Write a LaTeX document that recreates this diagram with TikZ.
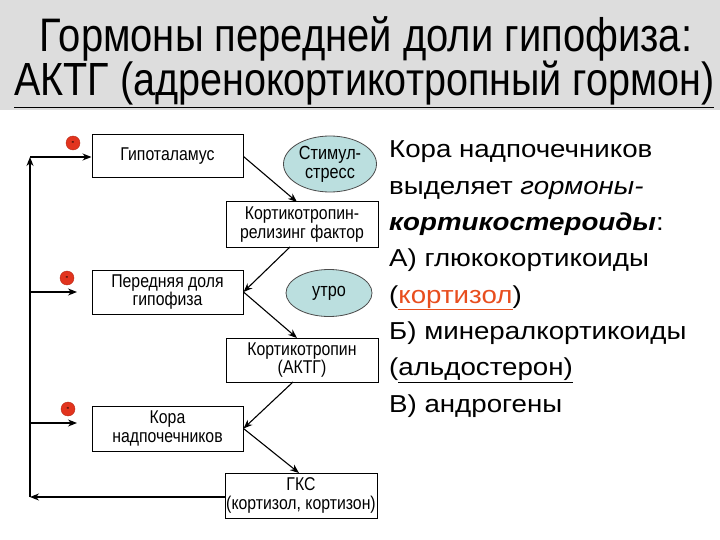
\documentclass[tikz,border=0pt]{standalone}
\usepackage{fontspec}
\setmainfont{Liberation Sans}
\newfontfamily\narrowfont[FakeStretch=0.855]{Liberation Sans}
\newfontfamily\titlefont[FakeStretch=0.85]{Liberation Sans}
\newfontfamily\widefont[FakeStretch=1.13]{Liberation Sans}
\usetikzlibrary{arrows.meta,shapes.geometric}
\definecolor{titlegray}{RGB}{221,221,221}
\definecolor{ellfill}{RGB}{187,223,223}
\definecolor{dotred}{RGB}{226,52,30}
\definecolor{linkorange}{RGB}{232,78,30}
\begin{document}
\begin{tikzpicture}[x=1pt,y=-1pt,
  box/.style={draw,line width=1pt,minimum width=151pt,minimum height=44pt,
    font=\narrowfont\fontsize{18.5}{18.5}\selectfont,align=center,inner sep=0pt},
  ell/.style={ellipse,draw=black!70,fill=ellfill,line width=0.8pt,
    font=\narrowfont\fontsize{19}{19}\selectfont,align=center,inner sep=0pt},
  conn/.style={-{Stealth[length=9pt,width=7pt]},line width=1.1pt},
  minus/.style={circle,fill=dotred,draw=dotred!80!black,minimum size=14pt,inner sep=0pt,
    font=\bfseries\fontsize{8}{8}\selectfont},
  rtext/.style={anchor=base west,inner sep=0pt,font=\widefont\fontsize{24.5}{30}\selectfont}]
\useasboundingbox (0,0) rectangle (720,540);
\fill[titlegray] (0,0) rectangle (720,110);
\node[font=\titlefont\fontsize{47}{47}\selectfont,anchor=base,inner sep=0pt] (t1) at (366,52) {Гормоны передней доли гипофиза:};
\node[font=\titlefont\fontsize{46.5}{47}\selectfont,anchor=base west,inner sep=0pt] (t2) at (14,96) {\underline{АКТГ (адренокортикотропный гормон)}};

% boxes
\node[box,minimum height=43pt] (hyp) at (167.5,156.5) {Гипоталамус};
\node[box,minimum width=152pt,minimum height=45pt] (krf) at (302,224.5) {Кортикотропин-\\релизинг фактор};
\node[box] (pd) at (167.5,292) {Передняя доля\\гипофиза};
\node[box,minimum width=152pt] (acth) at (302,360) {Кортикотропин\\(АКТГ)};
\node[box,minimum height=45pt] (kora) at (167.5,428.5) {Кора\\надпочечников};
\node[box,minimum width=152pt,minimum height=45pt] (gks) at (301,495.5) {ГКС\\(кортизол, кортизон)};

% ellipses
\node[ell,minimum width=93pt,minimum height=56pt] (stim) at (330,164) {Стимул-\\стресс};
\node[ell,minimum width=86pt,minimum height=47pt] (utro) at (329,293) {утро};

% red minus dots
\node[minus] (m1) at (73,143) {-};
\node[minus] (m2) at (67,278) {-};
\node[minus] (m3) at (68,409) {-};

% chain arrows
\coordinate (krftop) at (297,202);
\coordinate (krfbot) at (290,247);
\coordinate (acthtop) at (297,338);
\coordinate (acthbot) at (293,382);
\coordinate (gkstop) at (299,473);
\draw[conn] (hyp.east) -- (krftop);
\draw[conn] (krfbot) -- (pd.east);
\draw[conn] (pd.east) -- (acthtop);
\draw[conn] (acthbot) -- (kora.east);
\draw[conn] (kora.east) -- (gkstop);

% feedback loop
\coordinate (corner) at (30,157);
\coordinate (bot) at (30,497);
\coordinate (a2) at (30,292);
\coordinate (a3) at (30,423);
\coordinate (e2) at (77,292);
\coordinate (e3) at (77,423);
\draw[conn] (gks.west |- bot) -- (bot);
\draw[conn] (bot) -- (corner);
\draw[conn] (corner) -- (hyp.west |- corner);
\draw[conn] (a2) -- (e2);
\draw[conn] (a3) -- (e3);

% right text
\node[rtext] (r1) at (389,158) {Кора надпочечников};
\node[rtext] (r2) at (389,194.3) {выделяет \textit{гормоны-}};
\node[rtext] (r3) at (389,230.6) {\textbf{\textit{кортикостероиды}}:};
\node[rtext] (r4) at (389,266.9) {А) глюкокортикоиды};
\node[rtext] (r5) at (389,303.1) {(\textcolor{linkorange}{\underline{кортизол}})};
\node[rtext] (r6) at (389,339.4) {Б) минералкортикоиды};
\node[rtext] (r7) at (389,375.7) {(\underline{альдостерон)}};
\node[rtext] (r8) at (389,412) {В) андрогены};
\end{tikzpicture}
\end{document}
